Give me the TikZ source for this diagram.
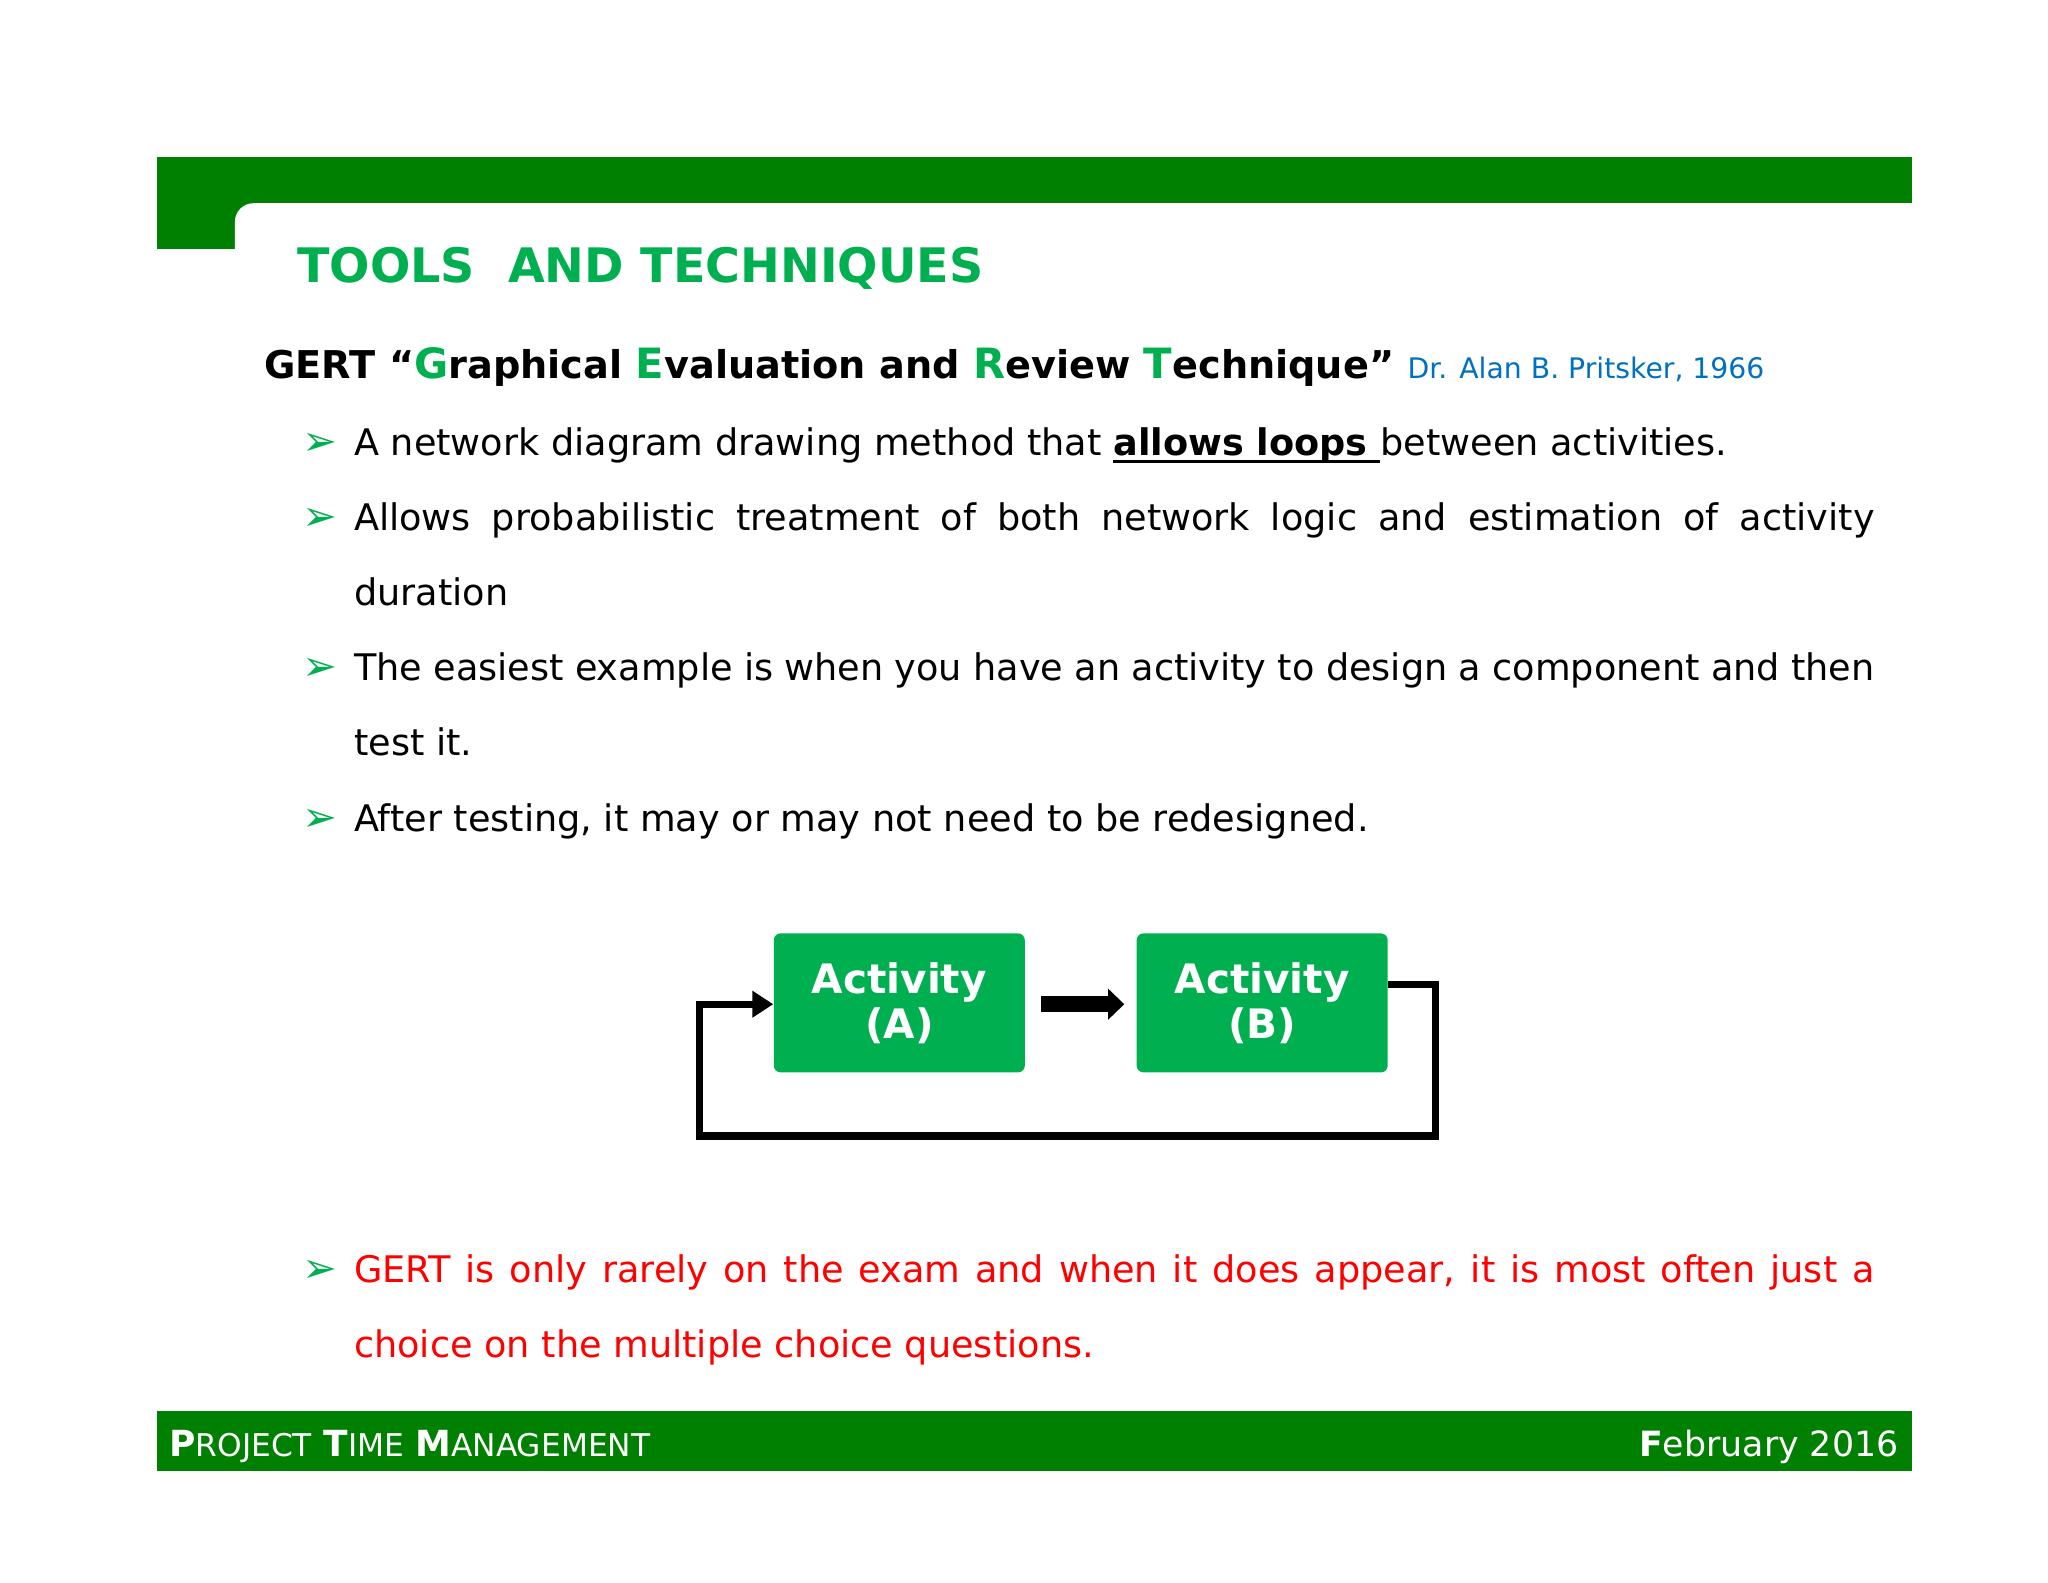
\documentclass[tikz,border=0pt]{standalone}
\usepackage{fontspec}
\setmainfont{DejaVu Sans}
\usetikzlibrary{arrows.meta}
\definecolor{tg}{RGB}{0,176,80}
\definecolor{bar}{RGB}{0,128,0}
\definecolor{blu}{RGB}{0,112,192}
\definecolor{rd}{RGB}{255,0,0}
\newcommand{\bul}{{\color{tg}\fontspec{DejaVu Sans}➢}}
\newcommand{\thul}[1]{\setbox0\hbox{#1}\rlap{\rule[-3.5pt]{\wd0}{1.4pt}}\box0}
\newcommand{\nohy}{\hyphenpenalty=10000\relax\exhyphenpenalty=10000\relax}
\tikzset{
 txt/.style={anchor=base west,inner sep=0pt,font=\fontsize{15.8}{32.3}\selectfont\nohy},
 par/.style={txt,text width=655.8pt,align=justify},
 bl/.style={anchor=base west,inner sep=0pt,font=\fontsize{18}{18}\selectfont},
 act/.style={fill=tg,rounded corners=3pt,minimum width=108.3pt,minimum height=60pt,text=white,align=center,font=\bfseries\fontsize{17.5}{19.5}\selectfont,inner sep=0pt},
 loopline/.style={line width=3.2pt,line join=miter}
}
\begin{document}
\begin{tikzpicture}[x=0.02cm,y=-0.02cm]
\useasboundingbox (0,0) rectangle (1552,1199);
\fill[white] (0,0) rectangle (1552,1199);
% header
\fill[bar] (119,119) rectangle (1449,189);
\fill[white,rounded corners=8pt] (178,154) rectangle (1449,230);
\fill[white] (300,154) rectangle (1449,230);
\node[anchor=base west,inner sep=0pt,text=tg,font=\bfseries\fontsize{20.5}{24}\selectfont] (title) at (225,214) {TOOLS~ AND TECHNIQUES};
\node[anchor=base west,inner sep=0pt,font=\bfseries\fontsize{16.5}{20}\selectfont] (gert) at (200,287) {GERT “{\color{tg}\fontsize{18}{20}\selectfont G}raphical {\color{tg}\fontsize{18}{20}\selectfont E}valuation and {\color{tg}\fontsize{18}{20}\selectfont R}eview {\color{tg}\fontsize{18}{20}\selectfont T}echnique” {\mdseries\color{blu}\fontsize{12.2}{15}\selectfont Dr. Alan B. Pritsker, 1966}};
% bullets
\foreach \y in {345,402,516,630,972} \node[bl] at (229,\y) {\bul};
\node[txt] (b1) at (268,345) {A network diagram drawing method that \textbf{\thul{allows loops }}between activities.};
\node[par] (b2) at (268,402) {Allows probabilistic treatment of both network logic and estimation of activity duration};
\node[par] (b3) at (268,516) {The easiest example is when you have an activity to design a component and then test it.};
\node[txt] (b4) at (268,630) {After testing, it may or may not need to be redesigned.};
\node[par,text=rd] (b5) at (268,972) {GERT is only rarely on the exam and when it does appear, it is most often just a choice on the multiple choice questions.};
% diagram
\node[act] (A) at (681.5,760) {Activity\\(A)};
\node[act] (B) at (956.5,760) {Activity\\(B)};
\draw[line width=7pt,-{Triangle[length=7pt,width=13pt]}] (789,761) -- (852,761) coordinate (bt);
\coordinate (p1) at (1088,746);
\coordinate (p2) at (1088,861);
\coordinate (p3) at (530,861);
\coordinate (p4) at (530,761);
\draw[loopline,-{Triangle[length=9pt,width=11pt]}] (B.east |- p1) -- (p1) -- (p2) -- (p3) -- (p4) -- (A.west |- p4);
% footer
\fill[bar] (119,1069) rectangle (1449,1115);
\node[anchor=base west,inner sep=0pt,text=white,font=\fontsize{15.5}{18}\selectfont] (ft) at (128,1104) {\textbf{P}{\fontsize{13.5}{14}\selectfont ROJECT} \textbf{T}{\fontsize{13.5}{14}\selectfont IME} \textbf{M}{\fontsize{13.5}{14}\selectfont ANAGEMENT}};
\node[anchor=base east,inner sep=0pt,text=white,font=\fontsize{15}{18}\selectfont] (fd) at (1439,1104) {\textbf{F}ebruary 2016};
\end{tikzpicture}
\end{document}
